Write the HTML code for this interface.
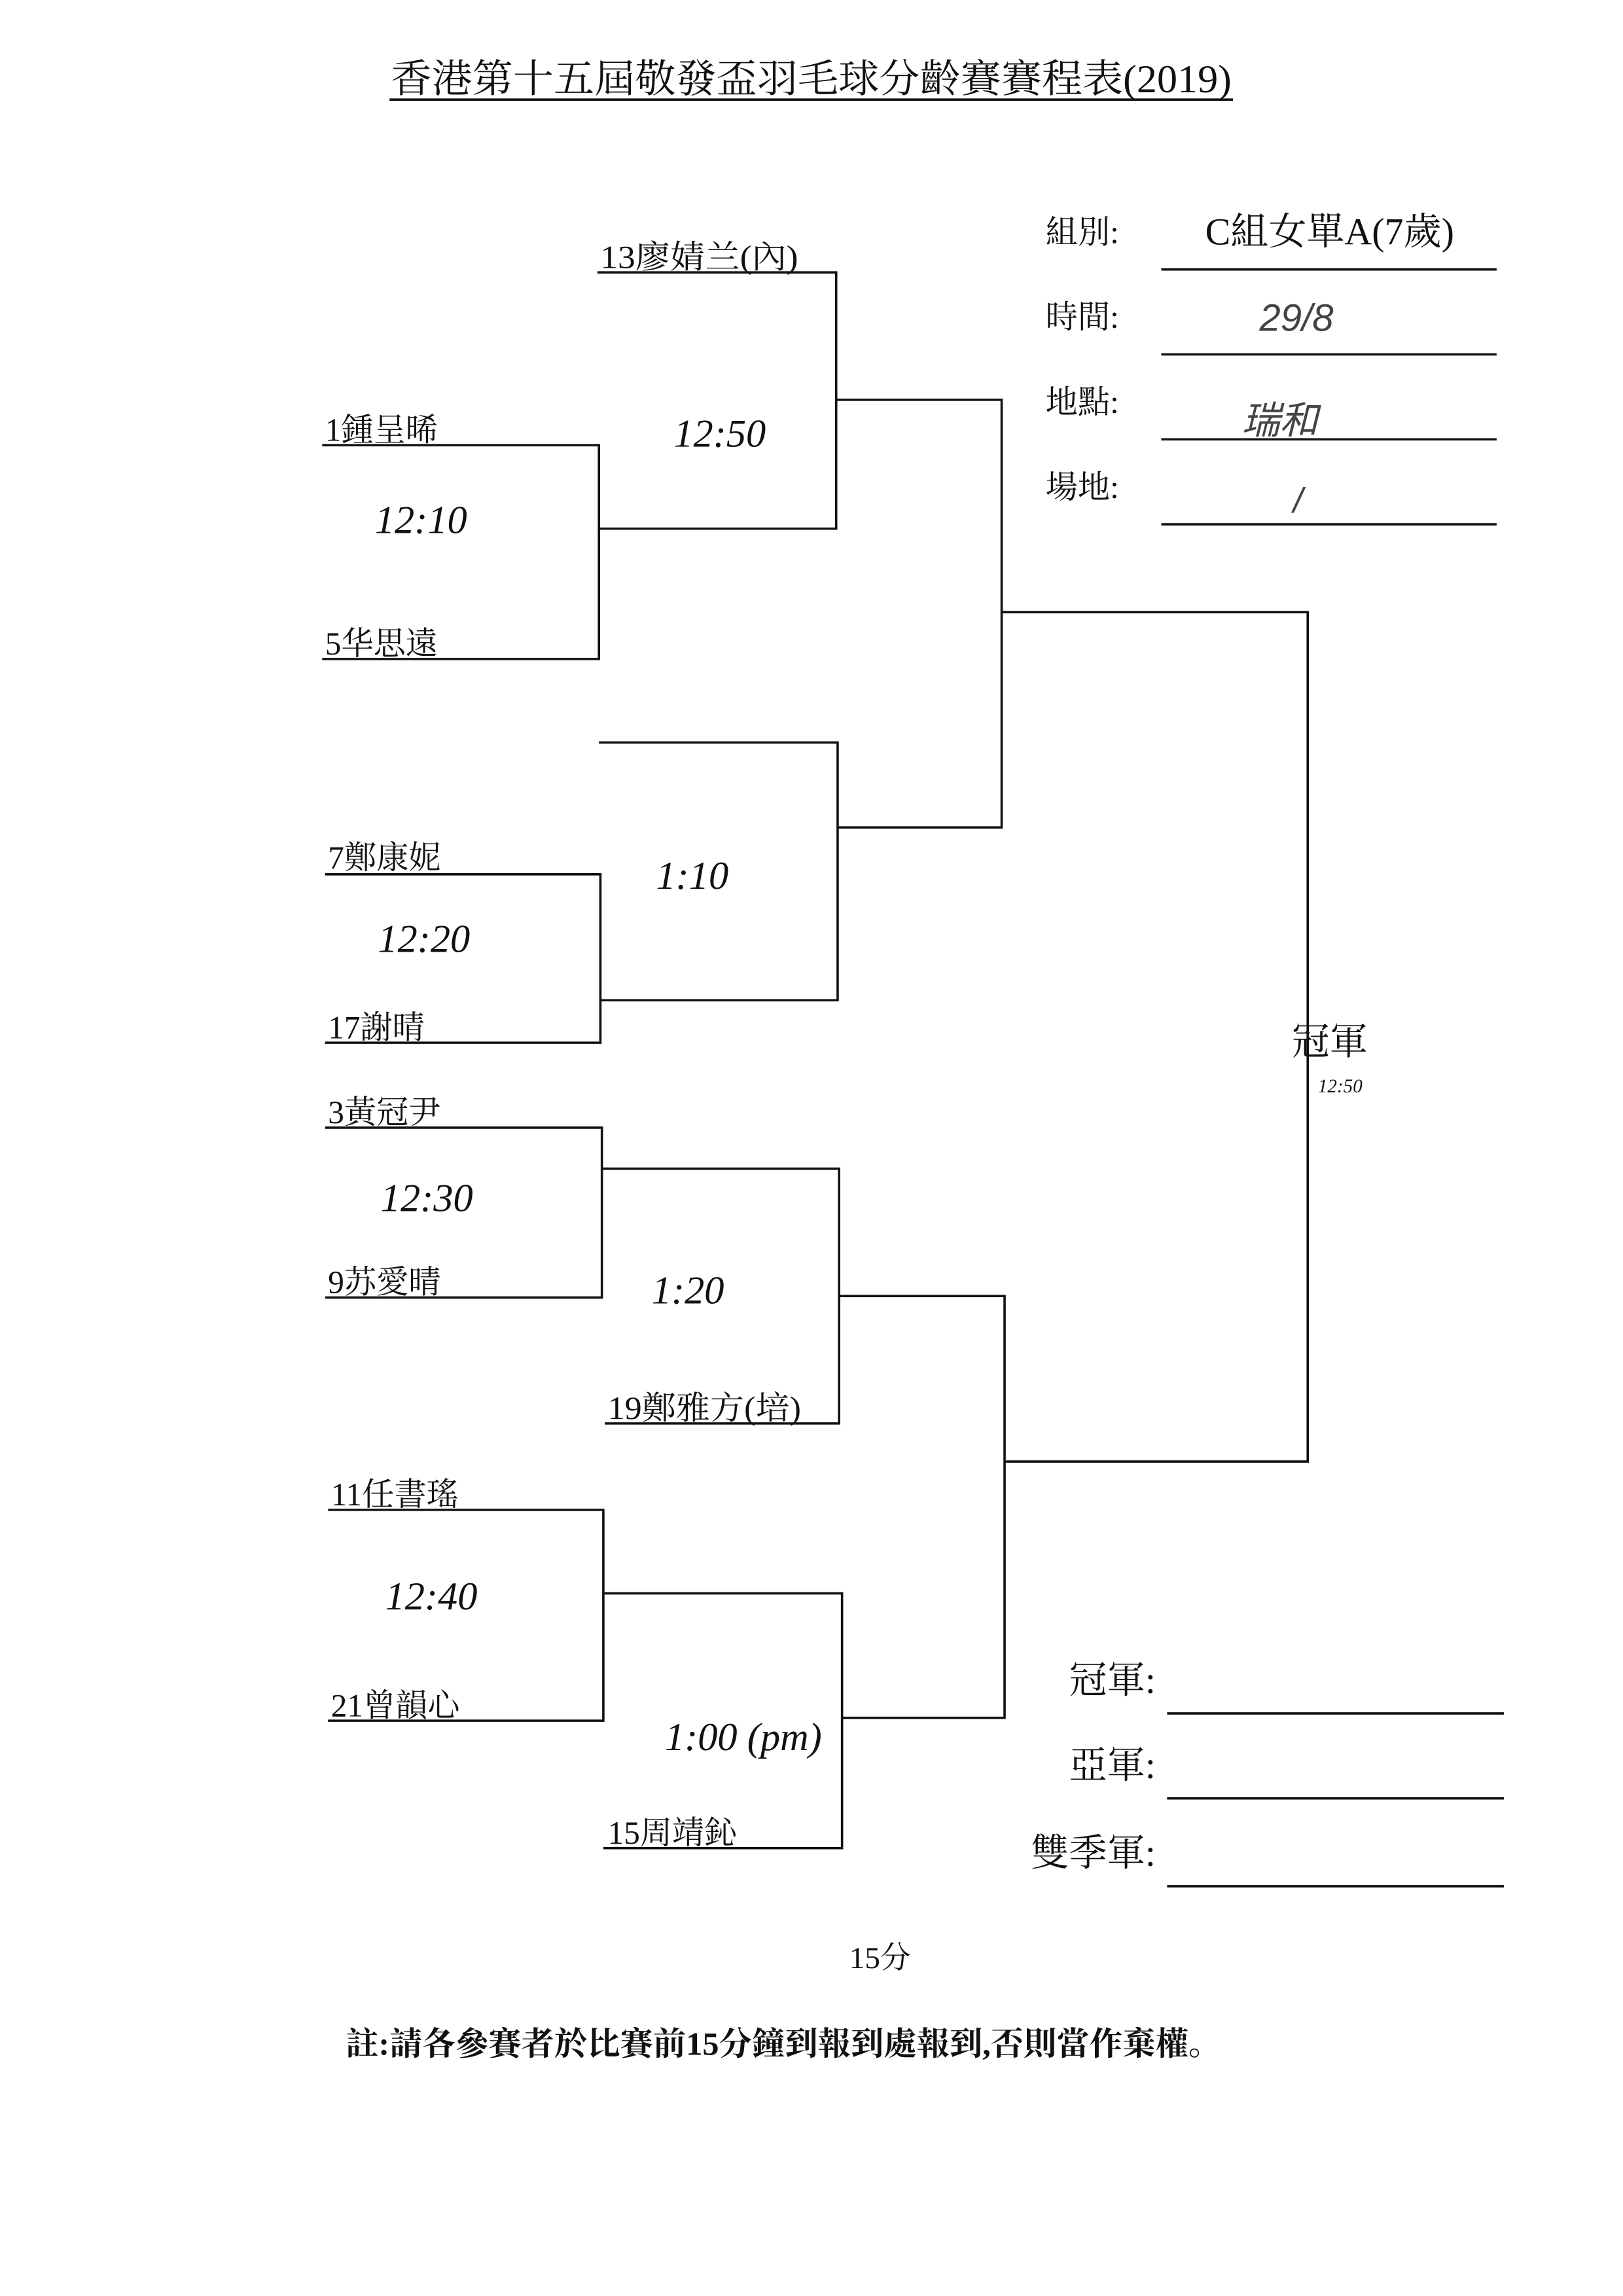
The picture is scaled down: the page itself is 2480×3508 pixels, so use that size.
<!DOCTYPE html>
<html><head><meta charset="utf-8"><style>
html,body{margin:0;padding:0;background:#fff}
svg{display:block}
text{font-family:"Liberation Serif","Noto Serif CJK SC","Noto Sans CJK TC",serif;fill:#111}
.h{font-family:"Liberation Sans",sans-serif;font-style:italic;font-weight:normal;fill:#444}
</style></head><body>
<svg width="2480" height="3508" viewBox="0 0 1108.3 1567.8" preserveAspectRatio="none" xmlns="http://www.w3.org/2000/svg">
<g stroke="#111" stroke-width="1.6" fill="none">
<line x1="266" y1="68" x2="842" y2="68"/>
<line x1="793" y1="184" x2="1022" y2="184"/>
<line x1="793" y1="242" x2="1022" y2="242"/>
<line x1="793" y1="300" x2="1022" y2="300"/>
<line x1="793" y1="358" x2="1022" y2="358"/>
<polyline points="408,186 571,186 571,361 409,361"/>
<polyline points="220,304 409,304 409,450 220,450"/>
<polyline points="409,507 572,507 572,683 410,683"/>
<polyline points="222,597 410,597 410,712 222,712"/>
<polyline points="571,273 684,273 684,565 572,565"/>
<polyline points="684,418 893,418 893,998 686,998"/>
<polyline points="222,770 411,770 411,886 222,886"/>
<polyline points="411,798 573,798 573,972 413,972"/>
<polyline points="224,1031 412,1031 412,1175 224,1175"/>
<polyline points="412,1088 575,1088 575,1262 412,1262"/>
<polyline points="573,885 686,885 686,1173 575,1173"/>
<line x1="797" y1="1170" x2="1027" y2="1170"/>
<line x1="797" y1="1228" x2="1027" y2="1228"/>
<line x1="797" y1="1288" x2="1027" y2="1288"/>
</g>
<text x="267" y="63" font-size="27" textLength="574" lengthAdjust="spacingAndGlyphs">香港第十五屆敬發盃羽毛球分齡賽賽程表(2019)</text>
<g font-size="22">
<text x="714" y="166">組別:</text>
<text x="714" y="224">時間:</text>
<text x="714" y="282">地點:</text>
<text x="714" y="340">場地:</text>
</g>
<text x="823" y="167" font-size="26" textLength="170" lengthAdjust="spacingAndGlyphs">C組女單A(7歲)</text>
<text class="h" x="860" y="226" font-size="26">29/8</text>
<text class="h" x="848" y="296" font-size="26" font-family="Noto Sans CJK SC">瑞和</text>
<text class="h" x="883" y="350" font-size="24">/</text>
<g font-size="22">
<text x="410" y="183" textLength="135" lengthAdjust="spacingAndGlyphs">13廖婧兰(內)</text>
<text x="222" y="301">1鍾呈晞</text>
<text x="222" y="447">5华思遠</text>
<text x="224" y="593">7鄭康妮</text>
<text x="224" y="709">17謝晴</text>
<text x="224" y="767">3黃冠尹</text>
<text x="224" y="883">9苏愛晴</text>
<text x="415" y="969" textLength="132" lengthAdjust="spacingAndGlyphs">19鄭雅方(培)</text>
<text x="226" y="1028">11任書瑤</text>
<text x="226" y="1172">21曾韻心</text>
<text x="415" y="1259">15周靖鈊</text>
</g>
<g class="h" font-size="27">
<text x="460" y="305">12:50</text>
<text x="256" y="364">12:10</text>
<text x="448" y="607">1:10</text>
<text x="258" y="650">12:20</text>
<text x="260" y="827">12:30</text>
<text x="445" y="890">1:20</text>
<text x="263" y="1099">12:40</text>
<text x="454" y="1195">1:00 (pm)</text>
<text x="900" y="746" font-size="13">12:50</text>
</g>
<text x="882" y="720" font-size="26">冠軍</text>
<g font-size="26">
<text x="730" y="1156">冠軍:</text>
<text x="730" y="1214">亞軍:</text>
<text x="704" y="1274">雙季軍:</text>
</g>
<text x="580" y="1344" font-size="21">15分</text>
<text x="236" y="1403" font-size="22" font-weight="bold" textLength="598" lengthAdjust="spacingAndGlyphs">註:請各參賽者於比賽前15分鐘到報到處報到,否則當作棄權。</text>
</svg>
</body></html>
